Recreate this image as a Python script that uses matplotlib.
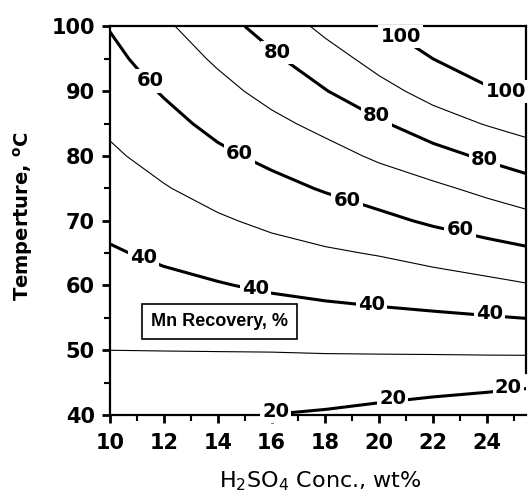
import numpy as np
import matplotlib
matplotlib.use('Agg')
import matplotlib.pyplot as plt
from matplotlib.patches import Rectangle

plt.rcParams['font.family'] = 'DejaVu Sans'
plt.rcParams['mathtext.fontset'] = 'dejavusans'

# H2SO4 concentration (wt%) and temperature (C) of the response grid
conc = [10, 12, 14, 16, 18, 20, 22, 24, 26]
temp = [40, 45, 50, 55, 60, 65, 70, 75, 80, 85, 90, 95, 100]

# Mn recovery (%) estimated from the chart, one row per temperature
recovery = [
    [22.0, 21.5, 20.7, 19.9, 19.0, 17.5, 15.7, 13.9, 11.0],    # 40
    [26.0, 25.8, 25.4, 25.1, 24.8, 24.1, 23.4, 22.6, 21.5],    # 45
    [30.0, 30.1, 30.2, 30.3, 30.6, 30.8, 31.0, 31.3, 31.6],    # 50
    [33.0, 33.9, 34.8, 35.8, 36.8, 37.7, 38.5, 39.4, 40.4],    # 55
    [36.1, 37.7, 39.4, 41.3, 42.9, 44.2, 45.7, 47.5, 50.0],    # 60
    [39.1, 41.6, 44.1, 46.7, 48.8, 50.6, 53.3, 56.3, 58.9],    # 65
    [42.3, 45.5, 48.8, 52.0, 54.8, 57.7, 61.4, 64.4, 67.9],    # 70
    [45.4, 49.4, 53.5, 57.1, 60.8, 64.6, 68.1, 72.4, 77.2],    # 75
    [48.6, 53.2, 58.1, 62.3, 66.6, 71.5, 76.4, 81.6, 86.0],    # 80
    [51.6, 57.0, 62.6, 67.7, 72.7, 78.8, 85.6, 90.6, 95.2],    # 85
    [54.6, 60.8, 67.0, 73.1, 79.6, 86.8, 93.4, 98.6, 104.8],   # 90
    [57.5, 64.6, 71.4, 78.4, 85.8, 93.5, 100.0, 106.5, 114.0], # 95
    [60.5, 68.3, 76.2, 83.7, 92.4, 99.4, 106.3, 114.0, 123.0], # 100
]

major_levels = [20, 40, 60, 80, 100]
minor_levels = [30, 50, 70, 90]

# label centres on the labelled lines (conc, temp)
label_spots = [(11.5, 91.6), (14.8, 80.4), (18.8, 73.2), (23.0, 68.7),
               (16.2, 96.0), (19.9, 86.2), (23.9, 79.4),
               (20.8, 98.5), (24.7, 90.0),
               (11.25, 64.3), (15.4, 59.5), (19.7, 57.0), (24.1, 55.7),
               (16.15, 40.5), (20.5, 42.5), (24.8, 44.2)]

X, Y = np.meshgrid(conc, temp)
Z = np.array(recovery)

fig = plt.figure(figsize=(5.28, 4.96), dpi=100)
ax = fig.add_axes([0.2083, 0.1633, 0.7879, 0.7833])

ax.contour(X, Y, Z, levels=minor_levels, colors='black', linewidths=0.8)
cs = ax.contour(X, Y, Z, levels=major_levels, colors='black', linewidths=2.2)
texts = ax.clabel(cs, fmt='%d', fontsize=14, inline=False, manual=label_spots)
for t, spot in zip(texts, label_spots):
    t.set_position(spot)
    t.set_rotation(0)
    t.set_color('black')
    t.set_fontweight('bold')
    t.set_bbox(dict(facecolor='white', edgecolor='none', pad=1.5))
    t.set_zorder(5)
    t.set_clip_on(False)

ax.set_xlim(10, 25.45)
ax.set_ylim(40, 100)
ax.set_xticks(np.arange(10, 25, 2))
ax.set_xticks(np.arange(11, 26, 2), minor=True)
ax.set_yticks(np.arange(40, 101, 10))
ax.set_yticks(np.arange(45, 100, 10), minor=True)
ax.tick_params(which='major', direction='out', length=6, width=2, labelsize=15)
ax.tick_params(axis='x', which='major', pad=7)
ax.tick_params(axis='y', which='major', pad=5)
ax.tick_params(which='minor', direction='out', length=4, width=1.5)
for lab in ax.get_xticklabels() + ax.get_yticklabels():
    lab.set_fontweight('bold')
for side in ['left', 'bottom', 'top', 'right']:
    ax.spines[side].set_linewidth(1.6)
ax.spines['right'].set_bounds(46.5, 100)

ax.set_xlabel('H$_2$SO$_4$ Conc., wt%', fontsize=16, va='top')
ax.xaxis.set_label_coords(0.505, -0.14)
ax.set_ylabel('Temperture, $^{\\mathbf{o}}$C', fontsize=14, fontweight='bold')
ax.yaxis.set_label_coords(-0.18, 0.51)

ax.add_patch(Rectangle((11.2, 51.8), 5.76, 5.4, facecolor='white',
                       edgecolor='black', linewidth=1.2, zorder=4))
ax.text(14.08, 54.5, 'Mn Recovery, %', family='Liberation Sans', fontsize=13,
        fontweight='bold', ha='center', va='center', zorder=6)

fig.savefig('out.png', dpi=100)
